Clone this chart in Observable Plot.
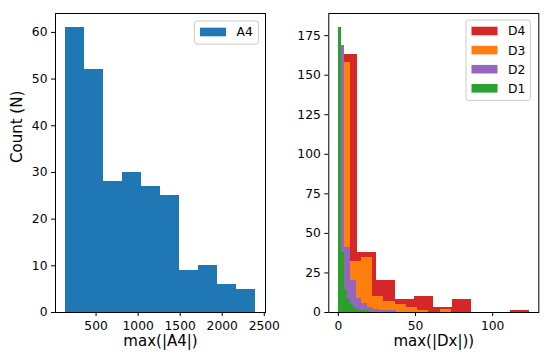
<!DOCTYPE html>
<html><head><meta charset="utf-8">
<script src="https://cdn.jsdelivr.net/npm/d3@7"></script>
<script src="https://cdn.jsdelivr.net/npm/@observablehq/plot@0.6"></script>
<style>
html,body{margin:0;padding:0;background:#fff;}
#wrap{position:relative;width:550px;height:362px;font-family:"DejaVu Sans",sans-serif;}
#wrap svg{position:absolute;top:0;}
</style></head><body><div id="wrap"></div>
<script>
// ---- data ----
const a4Edges  = [131, 358, 585, 812, 1039, 1266, 1493, 1720, 1947, 2174, 2401];
const a4Counts = [61, 52, 28, 30, 27, 25, 9, 10, 6, 5];

const seriesNames  = ["D4", "D3", "D2", "D1"];
const seriesColors = ["#d62728", "#ff7f0e", "#9467bd", "#2ca02c"];

const d4Edges  = [0, 12.4, 24.7, 37.1, 49.5, 61.9, 74.2, 86.6, 99.0, 111.3, 123.7];
const d4Counts = [163, 38, 20, 8, 10, 3, 8, 0, 0, 1];
const d3Edges  = [0.3, 7.6, 14.9, 22.2, 29.5, 36.8, 44.1, 51.4, 58.7, 66.0, 73.3];
const d3Counts = [158, 32, 35, 10, 7, 5, 3, 1, 0, 2];
const d2Edges  = [0.3, 4.05, 7.8, 11.55, 15.3, 19.05, 22.8, 26.55, 30.3, 34.05, 37.8];
const d2Counts = [169, 41, 20, 9, 6, 3, 2, 1, 1, 1];
const d1Edges  = [0, 2, 4, 6, 8, 10, 12, 14, 16, 18, 20];
const d1Counts = [180, 38, 14, 8, 5, 3, 2, 1, 1, 1];

const leftXTicks  = [500, 1000, 1500, 2000, 2500];
const leftYTicks  = [0, 10, 20, 30, 40, 50, 60];
const rightXTicks = [0, 50, 100];
const rightYTicks = [0, 25, 50, 75, 100, 125, 150, 175];

const leftXLabel  = "max(|A4|)";
const rightXLabel = "max(|Dx|))";
const yLabel      = "Count (N)";
const leftLegend  = "A4";

// ---- helpers ----
const toBins = (edges, counts, series) =>
  counts.map((c, i) => ({x1: edges[i], x2: edges[i + 1], y: c, series}));

const leftBins = toBins(a4Edges, a4Counts, "A4");
const rightBins = [
  ...toBins(d4Edges, d4Counts, "D4"),
  ...toBins(d3Edges, d3Counts, "D3"),
  ...toBins(d2Edges, d2Counts, "D2"),
  ...toBins(d1Edges, d1Counts, "D1")
];

const fmt = d => String(d);
const tickFont = 12.3, labelFont = 15;
const baseStyle = {fontFamily: "DejaVu Sans", fontSize: "12px", color: "#000", background: "transparent", overflow: "visible"};
const wrap = document.getElementById("wrap");

// ---- left panel ----
const left = Plot.plot({
  width: 275, height: 362,
  marginLeft: 55, marginRight: 10, marginTop: 13, marginBottom: 50,
  style: baseStyle,
  x: {domain: [17.5, 2514.5]},
  y: {domain: [0, 64.05]},
  marks: [
    Plot.rectY(leftBins, {x1: "x1", x2: "x2", y1: 0, y2: "y", fill: "#1f77b4", shapeRendering: "crispEdges"}),
    Plot.frame({stroke: "#000", strokeWidth: 1}),
    Plot.axisX({ticks: leftXTicks, tickFormat: fmt, tickSize: 4, tickPadding: 5, label: null, fontSize: tickFont}),
    Plot.axisY({ticks: leftYTicks, tickFormat: fmt, tickSize: 4, tickPadding: 4, label: null, fontSize: tickFont}),
    Plot.text([leftXLabel], {text: d => d, frameAnchor: "bottom", dy: 33.5, fontSize: labelFont}),
    Plot.text([yLabel], {text: d => d, frameAnchor: "left", rotate: -90, dx: -38.5, fontSize: labelFont})
  ]
});
left.style.left = "0px";
wrap.appendChild(left);

// ---- right panel ----
const right = Plot.plot({
  width: 275, height: 362,
  marginLeft: 53.3, marginRight: 11.7, marginTop: 13, marginBottom: 50,
  style: baseStyle,
  x: {domain: [-6.2, 129.9]},
  y: {domain: [0, 189]},
  color: {domain: seriesNames, range: seriesColors},
  marks: [
    Plot.rectY(rightBins, {x1: "x1", x2: "x2", y1: 0, y2: "y", fill: "series", shapeRendering: "crispEdges"}),
    Plot.frame({stroke: "#000", strokeWidth: 1}),
    Plot.axisX({ticks: rightXTicks, tickFormat: fmt, tickSize: 4, tickPadding: 5, label: null, fontSize: tickFont}),
    Plot.axisY({ticks: rightYTicks, tickFormat: fmt, tickSize: 4, tickPadding: 4, label: null, fontSize: tickFont}),
    Plot.text([rightXLabel], {text: d => d, frameAnchor: "bottom", dy: 33.5, fontSize: labelFont})
  ]
});
right.style.left = "275px";
wrap.appendChild(right);

// ---- legends (matplotlib style) ----
function legend(svg, x, y, w, labels, colors) {
  const rowH = 19.1;
  const g = d3.select(svg).append("g")
    .attr("font-family", "DejaVu Sans").attr("font-size", tickFont).attr("text-anchor", "start");
  g.append("rect").attr("x", x).attr("y", y).attr("width", w).attr("height", labels.length * rowH + 4)
    .attr("rx", 2.5).attr("fill", "#fff").attr("fill-opacity", 0.8).attr("stroke", "#cccccc").attr("stroke-width", 1);
  labels.forEach((lab, i) => {
    const cy = y + 11 + i * rowH;
    g.append("rect").attr("x", x + 5.5).attr("y", cy - 4.3).attr("width", 26).attr("height", 8.6).attr("fill", colors[i]);
    g.append("text").attr("x", x + 42).attr("y", cy).attr("dy", "0.36em")
      .attr("text-anchor", "start").attr("fill", "#000").text(lab);
  });
}
legend(left, 194.5, 21, 64, [leftLegend], ["#1f77b4"]);
legend(right, 191, 20, 64.5, seriesNames, seriesColors);
</script></body></html>
